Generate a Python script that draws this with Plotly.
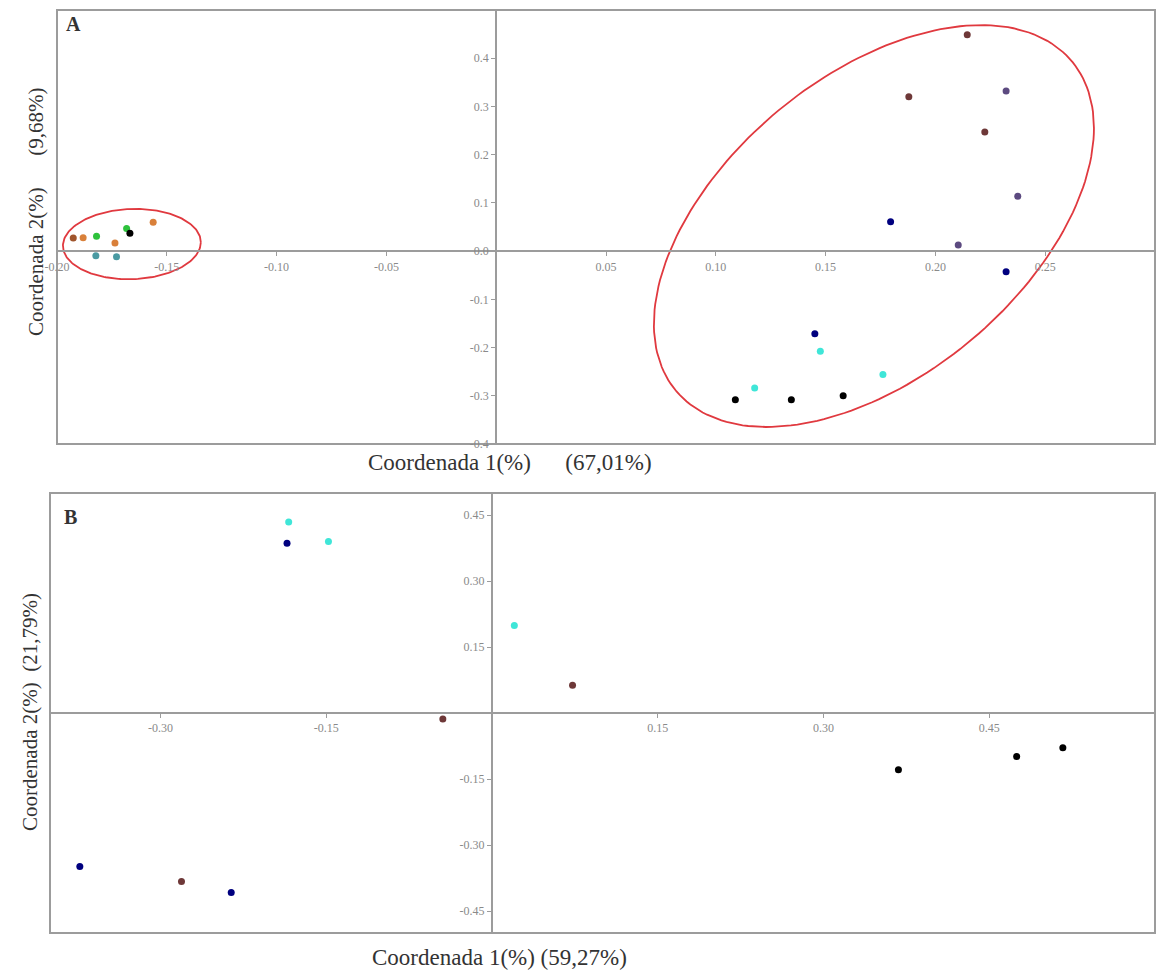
import numpy as np
import plotly.graph_objects as go

# ---------------- Panel A: principal coordinates (67,01% / 9,68%) ----------------
a_black_x = [-0.1668, 0.1089, 0.1344, 0.1580]
a_black_y = [0.0368, -0.308, -0.308, -0.300]
a_navy_x = [0.1796, 0.2322, 0.1451]
a_navy_y = [0.061, -0.043, -0.1715]
a_cyan_x = [0.1476, 0.1761, 0.1177]
a_cyan_y = [-0.2077, -0.256, -0.284]
a_maroon_x = [0.2145, 0.1879, 0.2225]
a_maroon_y = [0.4485, 0.320, 0.247]
a_purple_x = [0.2322, 0.2375, 0.2104]
a_purple_y = [0.332, 0.114, 0.0125]
a_orange_x = [-0.1881, -0.1736, -0.1562]
a_orange_y = [0.0276, 0.0167, 0.0597]
a_brown_x = [-0.1926]
a_brown_y = [0.027]
a_green_x = [-0.1820, -0.1683]
a_green_y = [0.0306, 0.047]
a_teal_x = [-0.1823, -0.1729]
a_teal_y = [-0.0097, -0.0118]

a_xticks = [-0.20, -0.15, -0.10, -0.05, 0.05, 0.10, 0.15, 0.20, 0.25]
a_xtext = ["-0.20", "-0.15", "-0.10", "-0.05", "0.05", "0.10", "0.15", "0.20", "0.25"]
a_yticks = [0.4, 0.3, 0.2, 0.1, 0.0, -0.1, -0.2, -0.3, -0.4]
a_ytext = ["0.4", "0.3", "0.2", "0.1", "0.0", "-0.1", "-0.2", "-0.3", "-0.4"]

# ---------------- Panel B: principal coordinates (59,27% / 21,79%) ----------------
b_cyan_x = [-0.184, -0.148, 0.0202]
b_cyan_y = [0.434, 0.390, 0.199]
b_navy_x = [-0.1855, -0.373, -0.236]
b_navy_y = [0.386, -0.349, -0.408]
b_maroon_x = [-0.0445, 0.0729, -0.281]
b_maroon_y = [-0.0136, 0.0633, -0.383]
b_black_x = [0.3678, 0.4748, 0.5166]
b_black_y = [-0.129, -0.0989, -0.079]

b_xticks = [-0.30, -0.15, 0.15, 0.30, 0.45]
b_xtext = ["-0.30", "-0.15", "0.15", "0.30", "0.45"]
b_yticks = [0.45, 0.30, 0.15, -0.15, -0.30, -0.45]
b_ytext = ["0.45", "0.30", "0.15", "-0.15", "-0.30", "-0.45"]

# group ellipses in panel A: centre, half-width, half-height, correlation
ell_right = dict(cx=0.172, cy=0.052, rx=0.1002, ry=0.4167, rho=0.4875)
ell_left = dict(cx=-0.1659, cy=0.0146, rx=0.0314, ry=0.0729, rho=0.05)

COLORS = {
    "black": "#000000",
    "navy": "#00007f",
    "cyan": "#3fe6d8",
    "maroon": "#6e3838",
    "purple": "#5c4a80",
    "orange": "#d9803a",
    "brown": "#a0552c",
    "green": "#2ec23c",
    "teal": "#4a9aa2",
}

W, H = 1157, 972
A_XDOM = [57 / W, 1155 / W]
A_YDOM = [1 - 444 / H, 1 - 10 / H]
B_XDOM = [50 / W, 1155 / W]
B_YDOM = [1 - 933 / H, 1 - 493 / H]
A_XR, A_YR = [-0.2, 0.3], [-0.4, 0.5]
B_XR, B_YR = [-0.4, 0.6], [-0.5, 0.5]

AX_COLOR = "#9c9c9c"
TICK_FONT = dict(family="Liberation Serif", size=12, color="#8a8a8a")
TITLE_FONT = dict(family="Liberation Serif", size=23, color="#333333")


def zero_pos(dom, rng):
    """Paper coordinate where the value 0 falls inside an axis domain."""
    return dom[0] + (0 - rng[0]) / (rng[1] - rng[0]) * (dom[1] - dom[0])


def ellipse(cx, cy, rx, ry, rho, n=200):
    t = np.linspace(0, 2 * np.pi, n)
    x = cx + rx * np.cos(t)
    y = cy + ry * (rho * np.cos(t) + np.sqrt(1 - rho ** 2) * np.sin(t))
    return x, y


fig = go.Figure()


def add_points(xs, ys, color, xa, ya):
    fig.add_trace(go.Scatter(
        x=xs, y=ys, mode="markers", xaxis=xa, yaxis=ya,
        marker=dict(size=7, color=COLORS[color], line=dict(width=0)),
        hoverinfo="x+y", showlegend=False,
    ))


for e in (ell_right, ell_left):
    ex, ey = ellipse(**e)
    fig.add_trace(go.Scatter(
        x=ex, y=ey, mode="lines", xaxis="x", yaxis="y",
        line=dict(color="#e0393f", width=1.8),
        hoverinfo="skip", showlegend=False,
    ))

for name, xs, ys in [
    ("orange", a_orange_x, a_orange_y), ("brown", a_brown_x, a_brown_y),
    ("green", a_green_x, a_green_y), ("teal", a_teal_x, a_teal_y),
    ("maroon", a_maroon_x, a_maroon_y), ("purple", a_purple_x, a_purple_y),
    ("navy", a_navy_x, a_navy_y), ("cyan", a_cyan_x, a_cyan_y),
    ("black", a_black_x, a_black_y),
]:
    add_points(xs, ys, name, "x", "y")

for name, xs, ys in [
    ("cyan", b_cyan_x, b_cyan_y), ("navy", b_navy_x, b_navy_y),
    ("maroon", b_maroon_x, b_maroon_y), ("black", b_black_x, b_black_y),
]:
    add_points(xs, ys, name, "x2", "y2")


def axis(dom, rng, pos, vals, text, side):
    return dict(
        domain=dom, range=rng, anchor="free", position=pos, side=side,
        showline=True, linecolor=AX_COLOR, linewidth=2,
        ticks="outside", ticklen=4, tickwidth=1, tickcolor=AX_COLOR,
        tickvals=vals, ticktext=text, tickfont=TICK_FONT,
        showgrid=False, zeroline=False, fixedrange=True, automargin=False,
    )


fig.update_layout(
    width=W, height=H,
    margin=dict(l=0, r=0, t=0, b=0, pad=0, autoexpand=False),
    paper_bgcolor="white", plot_bgcolor="white",
    showlegend=False,
    xaxis=axis(A_XDOM, A_XR, zero_pos(A_YDOM, A_YR), a_xticks, a_xtext, "bottom"),
    yaxis=axis(A_YDOM, A_YR, zero_pos(A_XDOM, A_XR), a_yticks, a_ytext, "left"),
    xaxis2=axis(B_XDOM, B_XR, zero_pos(B_YDOM, B_YR), b_xticks, b_xtext, "bottom"),
    yaxis2=axis(B_YDOM, B_YR, zero_pos(B_XDOM, B_XR), b_yticks, b_ytext, "left"),
)

# panel frames
for xr, yr in (("x domain", "y domain"), ("x2 domain", "y2 domain")):
    fig.add_shape(type="rect", xref=xr, yref=yr, x0=0, x1=1, y0=0, y1=1,
                  line=dict(color=AX_COLOR, width=2), layer="below")

NB = "\u00a0"
labels = [
    ("A", 73, 24, 0, dict(family="Liberation Serif", size=20, color="#333333", weight="bold")),
    ("B", 70, 517, 0, dict(family="Liberation Serif", size=20, color="#333333", weight="bold")),
    ("Coordenada 1(%)" + NB * 6 + "(67,01%)", 510, 462, 0, TITLE_FONT),
    ("Coordenada 1(%) (59,27%)", 499, 957, 0, TITLE_FONT),
    ("Coordenada 2(%)" + NB * 6 + "(9,68%)", 36, 212, -90, dict(TITLE_FONT, size=21)),
    ("Coordenada 2(%)" + NB * 2 + "(21,79%)", 30, 712, -90, dict(TITLE_FONT, size=21)),
]
for text, px, py, ang, font in labels:
    fig.add_annotation(
        text=text, x=px / W, y=1 - py / H, xref="paper", yref="paper",
        xanchor="center", yanchor="middle", showarrow=False,
        textangle=ang, font=font,
    )

fig.write_html("out.html")
